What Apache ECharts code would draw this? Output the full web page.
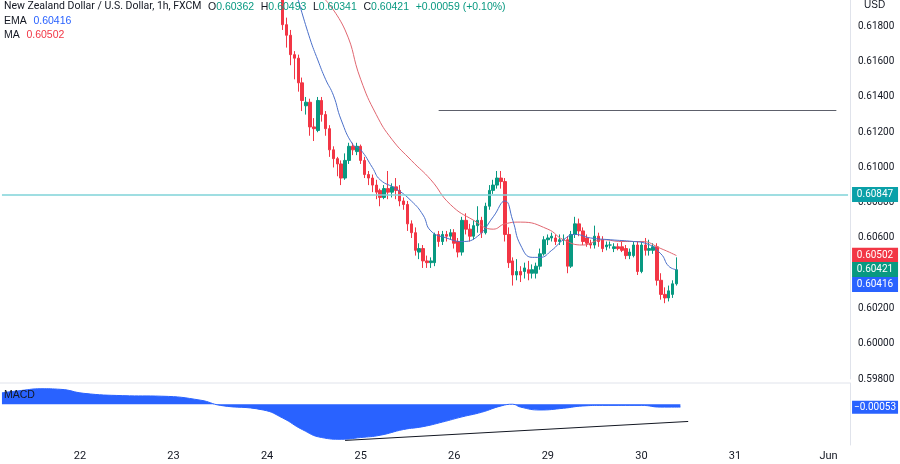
<!DOCTYPE html>
<html><head><meta charset="utf-8">
<script src="https://cdn.jsdelivr.net/npm/echarts@6/dist/echarts.min.js"></script>
<style>html,body{margin:0;padding:0;background:#fff}#c{width:900px;height:464px}</style>
</head><body><div id="c"></div>
<script>
// day tick labels and their category positions (hourly categories)
const dayLabels = ['22','23','24','25','26','29','30','31','Jun'];
const dayIndex = [20,44,68,92,116,140,164,188,212];
const nCats = 218;
const firstCandle = 72;
// candles: [open, close, low, high]
const candles = [
[.6200,.6181,.6178,.6205],[.6181,.6175,.6168,.6185],[.6175,.6164,.6158,.6178],[.6164,.6162,.6150,.6166],
[.6162,.6148,.6143,.6164],[.6148,.6138,.6132,.6151],[.6135,.6137,.6130,.6140],[.6137,.6123,.6118,.6139],
[.6123,.6122,.6115,.6128],[.6121,.6138,.6120,.6140],[.6138,.6130,.6126,.6140],[.6130,.6122,.6118,.6132],
[.6122,.6110,.6106,.6124],[.6110,.6105,.6100,.6112],[.6105,.6102,.6095,.6106],[.6102,.6094,.6090,.6104],
[.6094,.6104,.6093,.6108],[.6104,.6112,.6102,.6114],[.6112,.6110,.6107,.6114],[.6109,.6112,.6107,.6114],
[.6112,.6104,.6102,.6113],[.6104,.6096,.6094,.6106],[.6096,.6094,.6090,.6098],[.6094,.6090,.6086,.6096],
[.6090,.6086,.6082,.6093],[.6087,.6083,.6078,.6088],[.6083,.6088,.6082,.6090],[.6088,.6086,.6082,.6098],
[.6086,.6089,.6083,.6091],[.6089,.6087,.6082,.6094],[.6087,.6081,.6078,.6090],[.6081,.6079,.6076,.6083],
[.6079,.6068,.6064,.6081],[.6068,.6063,.6060,.6070],[.6063,.6053,.6050,.6066],[.6052,.6054,.6048,.6057],
[.6054,.6047,.6043,.6056],[.6047,.6046,.6043,.6050],[.6046,.6047,.6043,.6049],[.6046,.6062,.6044,.6063],
[.6062,.6058,.6055,.6064],[.6058,.6062,.6056,.6064],[.6062,.6061,.6058,.6064],[.6061,.6063,.6059,.6065],
[.6063,.6057,.6054,.6065],[.6058,.6052,.6049,.6060],[.6052,.6070,.6050,.6072],[.6070,.6065,.6062,.6074],
[.6065,.6061,.6058,.6068],[.6061,.6067,.6059,.6070],[.6067,.6070,.6063,.6078],[.6070,.6063,.6060,.6072],
[.6063,.6078,.6062,.6080],[.6078,.6087,.6076,.6090],[.6087,.6090,.6085,.6093],[.6090,.6094,.6088,.6098],
[.6094,.6092,.6088,.6098],[.6092,.6062,.6058,.6094],[.6062,.6046,.6043,.6066],[.6047,.6039,.6033,.6049],
[.6039,.6041,.6036,.6048],[.6041,.6039,.6035,.6044],[.6041,.6043,.6037,.6046],[.6042,.6040,.6036,.6047],
[.6040,.6042,.6037,.6045],[.6040,.6044,.6037,.6046],[.6044,.6051,.6042,.6054],[.6051,.6059,.6050,.6061],
[.6059,.6060,.6056,.6062],[.6060,.6061,.6058,.6063],[.6060,.6058,.6056,.6062],[.6058,.6059,.6056,.6062],
[.6059,.6059,.6056,.6062],[.6059,.6044,.6040,.6061],[.6044,.6062,.6043,.6064],[.6062,.6068,.6060,.6072],
[.6068,.6064,.6061,.6071],[.6064,.6058,.6056,.6066],[.6060,.6057,.6055,.6062],[.6057,.6056,.6054,.6059],
[.6056,.6061,.6054,.6067],[.6061,.6058,.6055,.6063],[.6059,.6054,.6052,.6061],[.6055,.6056,.6053,.6058],
[.6056,.6056,.6054,.6058],[.6054,.6055,.6052,.6057],[.6055,.6054,.6053,.6057],[.6055,.6053,.6052,.6058],
[.6054,.6050,.6048,.6056],[.6050,.6052,.6048,.6054],[.6050,.6056,.6049,.6058],[.6056,.6041,.6039,.6058],
[.6041,.6056,.6040,.6058],[.6056,.6053,.6050,.6060],[.6053,.6054,.6050,.6059],[.6053,.6055,.6051,.6057],
[.6055,.6036,.6033,.6057],[.6036,.6028,.6025,.6040],[.6028,.6026,.6023,.6032],[.6026,.6030,.6024,.6033],
[.6028,.6034,.6026,.6036],[.6034,.6042,.6033,.6049]
];
// [category, value]
const emaPts = [[76,.6195],[79,.6173],[81,.6161],[83,.6150],[85,.6141],[87,.6127],[90,.6113],[92,.6110],[95,.6100],[97,.6093],[101,.6088],[105,.6081],[108,.6073],[110,.6064],[114,.6060],[118,.6058],[122,.6061],[126,.6072],[129,.6081],[131,.6070],[133,.6056],[136,.6049],[138,.6049],[141,.6053],[144,.6059],[147,.6062],[151,.6060],[156,.6059],[162,.6058],[165,.6057],[169,.6051],[171,.6044],[173,.6042]];
const maPts = [[83,.6195],[88,.6178],[92,.6150],[96,.6130],[100,.6116],[105,.6104],[110,.6093],[115,.6079],[121,.6070],[126,.6065],[129,.6068],[133,.6069],[140,.6065],[144,.6059],[149,.6056],[154,.6059],[159,.6058],[164,.6058],[169,.6054],[173,.6050]];
const macdPts = [[0,.0020],[5,.0024],[10,.0027],[15,.0026],[21,.0019],[31,.0015],[41,.0014],[51,.0007],[56,-.0002],[67,-.0010],[72,-.0024],[77,-.0044],[82,-.0058],[87,-.0061],[92,-.0058],[97,-.0054],[103,-.0044],[108,-.0039],[113,-.0031],[118,-.0022],[123,-.0014],[128,-.0003],[131,0],[133,-.0005],[138,-.0010],[144,-.0007],[149,-.0003],[154,-.0002],[164,-.0002],[169,-.0005],[174,-.0005]];
const fibLevel = 0.61324, hLevel = 0.60847;
const maLast = 0.60502, closeLast = 0.60421, emaLast = 0.60416, macdLast = -0.00053;

const cats = Array.from({length:nCats},(_,i)=>String(i));
const lastCat = cats[nCats-1];
const candleData = cats.map((_,i)=>{const k=i-firstCandle;return (k>=0&&k<candles.length)?candles[k]:'-';});
function seriesFrom(pts){const a=cats.map(()=>null);pts.forEach(p=>a[p[0]]=p[1]);return a;}
const up='#089981', dn='#f23645';
const ch=echarts.init(document.getElementById('c'));
const tagPt=(v,txt,bg,h,dy)=>({coord:[lastCat,v],symbol:'rect',symbolSize:[46,h||15],symbolOffset:[27,dy||0],
  itemStyle:{color:bg},label:{show:true,position:'inside',formatter:txt,color:'#fff',fontSize:10}});
ch.setOption({
 animation:false,
 textStyle:{fontFamily:'Roboto, sans-serif'},
 grid:[{left:0,right:50,top:0,bottom:85},{left:0,right:50,top:383,bottom:19}],
 xAxis:[
  {type:'category',data:cats,gridIndex:0,boundaryGap:true,axisLine:{show:false},axisTick:{show:false},axisLabel:{show:false},splitLine:{show:false}},
  {type:'category',data:cats,gridIndex:1,boundaryGap:true,axisLine:{show:false},axisTick:{show:false},
   axisLabel:{interval:(i)=>dayIndex.includes(i),formatter:(v)=>{const j=dayIndex.indexOf(+v);return j>=0?dayLabels[j]:'';},color:'#131722',fontSize:11,margin:6},splitLine:{show:false}}
 ],
 yAxis:[
  {type:'value',gridIndex:0,position:'right',min:0.598,max:0.6195,interval:0.002,splitLine:{show:false},
   axisLine:{show:true,lineStyle:{color:'#e0e3eb'}},axisTick:{show:false},
   axisLabel:{color:'#131722',fontSize:10,margin:8,formatter:v=>v.toFixed(5),showMaxLabel:false}},
  {type:'value',gridIndex:1,position:'right',min:-0.0071,max:0.0037,splitLine:{show:false},
   axisLine:{show:true,lineStyle:{color:'#e0e3eb'}},axisTick:{show:false},axisLabel:{show:false}}
 ],
 series:[
  {type:'candlestick',data:candleData,barWidth:3,xAxisIndex:0,yAxisIndex:0,
   itemStyle:{color:up,color0:dn,borderColor:up,borderColor0:dn,borderWidth:1}},
  {type:'line',data:seriesFrom(maPts),connectNulls:true,showSymbol:false,smooth:true,clip:false,lineStyle:{color:'#e06670',width:1},
   markLine:{symbol:'none',silent:true,data:[
     [{xAxis:'0',yAxis:hLevel,lineStyle:{color:'#7fd3d8',width:1.5,type:'solid'},label:{show:false}},{xAxis:lastCat,yAxis:hLevel}],
     [{xAxis:'112',yAxis:fibLevel,lineStyle:{color:'#5d606b',width:1,type:'solid'},label:{show:false}},{xAxis:'214',yAxis:fibLevel,label:{show:true,position:'end',formatter:'38.20%',color:'#7b5fa5',fontSize:10,distance:6}}]]},
   markPoint:{silent:true,data:[tagPt(hLevel,'0.60847','#0aa0a8'),tagPt(maLast,'0.60502','#f23645')]}},
  {type:'line',data:seriesFrom(emaPts),connectNulls:true,showSymbol:false,smooth:true,clip:false,lineStyle:{color:'#4a6fc9',width:1},
   markPoint:{silent:true,data:[tagPt(closeLast,'0.60421',up),tagPt(emaLast,'0.60416','#2962ff',15,14)]}},
  {type:'line',xAxisIndex:1,yAxisIndex:1,data:seriesFrom(macdPts),connectNulls:true,showSymbol:false,smooth:true,clip:false,
   lineStyle:{color:'#2962ff',width:1},areaStyle:{color:'#2962ff',opacity:1,origin:0},
   markLine:{symbol:'none',silent:true,data:[
     [{xAxis:'88',yAxis:-0.0063,lineStyle:{color:'#131722',width:1,type:'solid'},label:{show:false}},{xAxis:'176',yAxis:-0.0030}]]},
   markPoint:{silent:true,data:[tagPt(macdLast,'−0.00053','#2962ff',13)]}}
 ],
 graphic:[
  {type:'line',z:100,shape:{x1:0,y1:383,x2:850,y2:383},style:{stroke:'#e0e3eb',lineWidth:1}},
  {type:'text',z:100,left:4,top:1,style:{text:'New Zealand Dollar / U.S. Dollar, 1h, FXCM',fill:'#131722',fontSize:10.5,fontFamily:'Roboto'}},
  {type:'text',z:100,left:208,top:1,style:{rich:{a:{fill:'#131722',fontSize:10.5},b:{fill:'#089981',fontSize:10.5}},text:'{a|O}{b|0.60362}  {a|H}{b|0.60493}  {a|L}{b|0.60341}  {a|C}{b|0.60421}  {b|+0.00059 (+0.10%)}'}},
  {type:'text',z:100,left:4,top:15,style:{rich:{a:{fill:'#131722',fontSize:10.5},b:{fill:'#2962ff',fontSize:10.5}},text:'{a|EMA}  {b|0.60416}'}},
  {type:'text',z:100,left:4,top:29,style:{rich:{a:{fill:'#131722',fontSize:10.5},b:{fill:'#f23645',fontSize:10.5}},text:'{a|MA}  {b|0.60502}'}},
  {type:'text',z:100,left:4,top:390,style:{text:'MACD',fill:'#131722',fontSize:10.5}},
  {type:'text',z:100,left:864,top:0,style:{text:'USD',fill:'#131722',fontSize:10}}
 ]
});
</script></body></html>
